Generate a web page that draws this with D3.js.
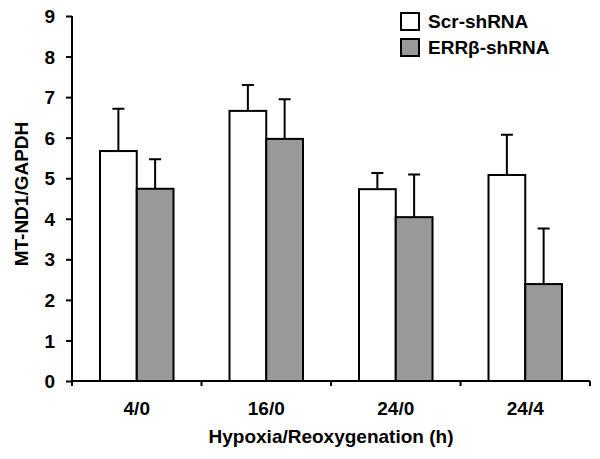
<!DOCTYPE html>
<html><head><meta charset="utf-8">
<script src="https://cdn.jsdelivr.net/npm/d3@7"></script>
<style>html,body{margin:0;padding:0;background:#fff}svg{display:block}text{font-family:"Liberation Sans",Arial,sans-serif;font-weight:bold;fill:#000}</style>
</head><body><svg id="c" width="600" height="459"></svg>
<script>
const categories = ["4/0", "16/0", "24/0", "24/4"];
const seriesNames = ["Scr-shRNA", "ERRβ-shRNA"];
const scrValues = [5.67, 6.66, 4.73, 5.08];
const scrErrors = [1.04, 0.64, 0.40, 0.99];
const errbValues = [4.74, 5.97, 4.04, 2.39];
const errbErrors = [0.73, 0.98, 1.05, 1.37];
const yTicks = [0, 1, 2, 3, 4, 5, 6, 7, 8, 9];
const colors = ["#ffffff", "#999999"];

const svg = d3.select("#c");
const y = d3.scaleLinear().domain([0, 9]).range([381, 16]);
const x = d3.scaleBand().domain(categories).range([72, 590]).padding(0);
const bw = x.bandwidth();
const inner = d3.scaleBand().domain(seriesNames).range([(bw - 73.5) / 2, (bw + 73.5) / 2]).padding(0);
const color = d3.scaleOrdinal().domain(seriesNames).range(colors);

const data = categories.map((c, i) => ({
  cat: c,
  vals: [
    {s: seriesNames[0], v: scrValues[i], e: scrErrors[i]},
    {s: seriesNames[1], v: errbValues[i], e: errbErrors[i]}
  ]
}));

// y axis
const yAxis = svg.append("g").attr("transform", "translate(72,0)")
  .call(d3.axisLeft(y).tickValues(yTicks).tickSize(6).tickPadding(11).tickFormat(d3.format("d")));
yAxis.select(".domain").attr("stroke", "#000").attr("stroke-width", 2).attr("d", `M0,${y(9)}V${y(0)}`);
yAxis.selectAll(".tick line").attr("stroke", "#000").attr("stroke-width", 2);
yAxis.selectAll(".tick text").style("font-size", "19px").attr("dy", "0.35em");

// bars
const groups = svg.append("g").selectAll("g").data(data).join("g")
  .attr("transform", d => `translate(${x(d.cat)},0)`);
groups.selectAll("rect").data(d => d.vals).join("rect")
  .attr("x", d => inner(d.s))
  .attr("width", inner.bandwidth())
  .attr("y", d => y(d.v))
  .attr("height", d => y(0) - y(d.v))
  .attr("fill", d => color(d.s))
  .attr("stroke", "#000").attr("stroke-width", 2);
// error bars
groups.selectAll("path.err").data(d => d.vals).join("path")
  .attr("class", "err")
  .attr("fill", "none").attr("stroke", "#000").attr("stroke-width", 2)
  .attr("d", d => {
    const cx = inner(d.s) + inner.bandwidth() / 2;
    const t = y(d.v + d.e);
    return `M${cx},${y(d.v)}V${t}M${cx - 6},${t}H${cx + 6}`;
  });

// x axis
const xa = svg.append("g");
xa.append("line").attr("x1", x.range()[0]).attr("x2", x.range()[1])
  .attr("y1", y(0)).attr("y2", y(0)).attr("stroke", "#000").attr("stroke-width", 2);
const bounds = categories.map(c => x(c)).concat([x.range()[1]]);
xa.selectAll("line.tk").data(bounds).join("line").attr("class", "tk")
  .attr("x1", d => d).attr("x2", d => d).attr("y1", y(0)).attr("y2", y(0) + 5)
  .attr("stroke", "#000").attr("stroke-width", 2);
xa.selectAll("text").data(categories).join("text")
  .attr("x", d => x(d) + bw / 2).attr("y", 415)
  .attr("text-anchor", "middle").style("font-size", "19px").text(d => d);

// axis titles
svg.append("text").attr("x", 331).attr("y", 443).attr("text-anchor", "middle")
  .style("font-size", "19px").text("Hypoxia/Reoxygenation (h)");
svg.append("text").attr("transform", "translate(28,194) rotate(-90)").attr("text-anchor", "middle")
  .style("font-size", "19px").text("MT-ND1/GAPDH");

// legend
const lg = svg.append("g").selectAll("g").data(seriesNames).join("g")
  .attr("transform", (d, i) => `translate(401,${13 + i * 26})`);
lg.append("rect").attr("width", 18).attr("height", 17)
  .attr("fill", d => color(d)).attr("stroke", "#000").attr("stroke-width", 2);
lg.append("text").attr("x", 27).attr("y", 14.5).style("font-size", "19px").text(d => d);
</script></body></html>
